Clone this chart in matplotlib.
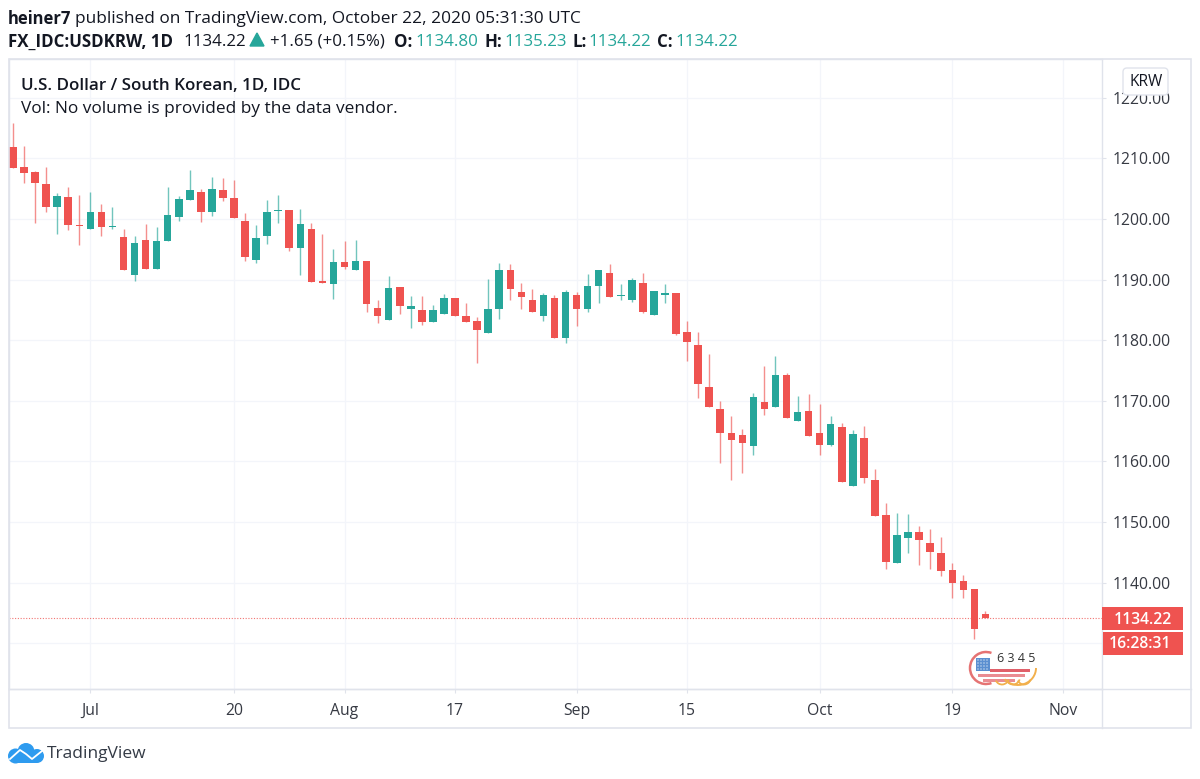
import numpy as np
import matplotlib
matplotlib.use("Agg")
import matplotlib.pyplot as plt
from matplotlib.patches import Rectangle, FancyBboxPatch, Circle, Arc, Polygon

plt.rcParams['font.family'] = ['Open Sans', 'DejaVu Sans']

# USD/KRW daily candles
opens = [1211.9,1208.5,1207.7,1205.8,1201.9,1203.6,1199.0,1198.3,1201.2,1198.6,
         1197.0,1190.8,1196.5,1191.8,1196.4,1200.3,1203.2,1204.4,1201.2,1204.7,
         1203.4,1199.6,1193.2,1197.1,1201.3,1201.5,1195.2,1198.3,1189.8,1189.2,
         1192.9,1191.5,1193.1,1185.3,1183.4,1188.7,1185.1,1185.0,1183.0,1184.3,
         1186.9,1184.0,1183.1,1181.1,1185.1,1191.6,1187.9,1186.6,1184.0,1186.9,
         1180.4,1187.4,1185.2,1189.0,1191.0,1187.2,1186.6,1189.4,1184.1,1187.4,
         1187.8,1181.4,1179.2,1172.3,1168.7,1164.7,1164.3,1162.6,1169.8,1169.0,
         1174.2,1166.6,1168.3,1164.6,1162.7,1165.6,1156.0,1163.9,1156.9,1151.2,
         1143.3,1147.3,1148.3,1146.5,1144.8,1142.0,1140.2,1138.9,1134.80]
closes = [1208.4,1207.6,1206.0,1201.9,1203.8,1199.0,1198.8,1201.2,1198.7,1198.9,
          1191.5,1196.1,1191.8,1196.4,1200.6,1203.3,1204.7,1201.2,1204.9,1203.4,
          1200.1,1193.7,1196.8,1201.1,1201.5,1195.2,1199.2,1189.6,1189.5,1192.9,
          1192.1,1193.1,1186.0,1183.9,1188.6,1185.7,1185.6,1183.0,1184.9,1186.9,
          1183.9,1183.0,1181.6,1185.1,1191.6,1188.4,1187.1,1184.6,1187.5,1180.4,
          1187.9,1185.1,1189.0,1191.6,1187.1,1187.4,1190.0,1184.6,1188.1,1187.8,
          1181.0,1179.7,1172.8,1169.0,1164.7,1163.6,1163.1,1170.6,1168.7,1174.2,
          1167.1,1168.1,1164.1,1162.7,1166.2,1156.6,1164.5,1157.2,1150.9,1143.4,
          1147.8,1148.3,1147.0,1145.0,1141.9,1139.9,1138.7,1132.4,1134.22]
highs = [1215.9,1212.1,1207.9,1208.5,1204.2,1205.3,1204.0,1204.4,1202.5,1202.0,
         1198.3,1197.2,1199.1,1198.6,1205.3,1203.8,1208.1,1204.9,1207.0,1206.7,
         1206.4,1200.9,1199.0,1203.1,1204.0,1201.5,1201.6,1199.4,1197.5,1195.1,
         1196.4,1196.5,1193.1,1186.6,1190.6,1188.8,1187.3,1187.3,1185.8,1187.6,
         1186.9,1186.2,1183.8,1190.1,1192.8,1192.5,1189.4,1188.4,1187.8,1187.4,
         1188.2,1187.9,1190.9,1191.6,1192.6,1189.2,1190.2,1191.0,1188.1,1189.3,
         1187.8,1183.2,1181.4,1177.7,1170.0,1167.4,1165.4,1171.3,1175.7,1177.4,
         1174.6,1170.8,1171.1,1169.4,1167.5,1166.4,1165.1,1165.8,1158.8,1153.2,
         1151.4,1151.3,1149.4,1148.9,1147.5,1143.3,1141.3,1138.9,1135.23]
lows = [1208.4,1205.9,1199.3,1201.2,1197.5,1198.1,1195.7,1198.3,1197.1,1198.3,
        1191.5,1189.8,1191.8,1191.8,1196.4,1199.7,1203.2,1199.5,1200.5,1202.9,
        1200.1,1193.1,1192.8,1195.8,1199.4,1194.7,1190.7,1189.6,1189.5,1186.8,
        1191.7,1191.5,1184.7,1182.9,1183.4,1184.3,1182.0,1182.5,1183.0,1184.3,
        1183.9,1183.0,1176.3,1181.1,1183.5,1186.6,1185.1,1184.6,1183.2,1180.4,
        1179.6,1182.4,1184.7,1186.1,1187.1,1186.7,1186.3,1184.4,1184.1,1186.1,
        1180.8,1176.6,1170.4,1169.0,1159.8,1157.0,1158.0,1161.0,1167.6,1169.0,
        1167.1,1166.6,1164.1,1161.0,1162.5,1156.6,1156.0,1156.5,1150.9,1142.3,
        1143.3,1144.8,1142.9,1142.2,1141.1,1137.4,1137.5,1130.7,1134.22]

price_ticks = [1130,1140,1150,1160,1170,1180,1190,1200,1210,1220]
price_labels = ["","1140.00","1150.00","1160.00","1170.00","1180.00","1190.00","1200.00","1210.00","1220.00"]
date_ticks = [7,20,30,40,51,61,73,85,95]
date_labels = ["Jul","20","Aug","17","Sep","15","Oct","19","Nov"]
last_price = 1134.22

up_col = '#26a69a'
down_col = '#ef5350'
text_col = '#131722'
line_col = '#e0e3eb'
grid_col = '#f3f5fa'
W, H = 1200, 779

fig = plt.figure(figsize=(W/100, H/100), dpi=100, facecolor='white')
ax = fig.add_axes([9/W, 1-689/H, (1102-9)/W, (689-59)/H])

x = np.arange(len(opens))
opens = np.array(opens)
closes = np.array(closes)
highs = np.array(highs)
lows = np.array(lows)
cols = [up_col if c > o else down_col for o, c in zip(opens, closes)]

ax.vlines(x, lows, highs, colors=cols, linewidth=1.0, alpha=0.65, zorder=3)
ax.bar(x, np.maximum(np.abs(closes-opens), 0.25), bottom=np.minimum(opens, closes), width=0.68, color=cols, linewidth=0, zorder=4)
ax.axhline(last_price, color=down_col, linewidth=0.8, linestyle=(0, (1, 1.5)), alpha=0.8, zorder=2)

ax.set_xlim(-0.362, 98.55)
ax.set_ylim(1122.43, 1226.39)
ax.yaxis.tick_right()
ax.set_xticks(date_ticks)
ax.set_xticklabels(date_labels, fontsize=11.3, color=text_col, alpha=0.85)
ax.set_yticks(price_ticks)
ax.set_yticklabels(price_labels, fontsize=11.3, color=text_col, alpha=0.85)
ax.tick_params(axis='x', length=3, width=0.8, color=line_col, pad=7)
ax.tick_params(axis='y', length=3, width=0.8, color=line_col, pad=5)
ax.grid(True, color=grid_col, linewidth=0.9, zorder=0)
ax.set_axisbelow(True)
for s in ax.spines.values():
    s.set_color(line_col)
    s.set_linewidth(1.0)

# overlay in pixel coordinates for the header, frame and badges
over = fig.add_axes([0, 0, 1, 1], facecolor='none')
over.set_xlim(0, W)
over.set_ylim(H, 0)
over.axis('off')

over.add_patch(Rectangle((8.5, 59), 1182, 669, fill=False, edgecolor=line_col, linewidth=1.2))
over.plot([1102, 1102], [689, 728], color=line_col, linewidth=1.0)
over.plot([9, 1191], [689, 689], color=line_col, linewidth=1.0)

def put(px, py, s, size=12.2, weight='normal', color=text_col, ha='left', zorder=10):
    over.text(px, py+1.5, s, fontsize=size, fontweight=weight, color=color, ha=ha, va='center', zorder=zorder)

put(8, 17, "heiner7", size=11.9, weight='bold')
put(75, 17, "published on TradingView.com, October 22, 2020 05:31:30 UTC", size=12.45)
put(8, 40, "FX_IDC:USDKRW, 1D", weight='bold')
put(183, 40, "1134.22")
over.add_patch(Polygon([[250, 46], [264, 46], [257, 33]], color=up_col))
put(270, 40, "+1.65 (+0.15%)")
header_vals = [(394, "O:", 415, "1134.80"), (484, "H:", 504, "1135.23"), (573, "L:", 588, "1134.22"), (657, "C:", 675, "1134.22")]
for lx, lab, vx, val in header_vals:
    put(lx, 40, lab, weight='bold')
    put(vx, 40, val, color=up_col)

put(21, 84, "U.S. Dollar / South Korean, 1D, IDC", size=12.25, weight='semibold')
put(21, 107, "Vol: No volume is provided by the data vendor.", size=12.45)

# currency badge
over.add_patch(FancyBboxPatch((1123, 68), 45, 27, boxstyle="round,pad=0,rounding_size=4", facecolor='white', edgecolor=line_col, linewidth=1, zorder=8))
put(1146, 80, "KRW", size=11.2, ha='center', zorder=9)

# price and countdown labels
over.add_patch(Rectangle((1102, 607), 81, 23, color=down_col, linewidth=0, zorder=8))
over.add_patch(Rectangle((1103, 632), 80, 23, color=down_col, linewidth=0, zorder=8))
put(1142.5, 618, "1134.22", size=11.3, weight='semibold', color='white', ha='center', zorder=9)
put(1140, 643, "16:28:31", size=11.3, weight='semibold', color='white', ha='center', zorder=9)

# small flag watermark
over.add_patch(Arc((986, 668), 32, 32, theta1=70, theta2=290, edgecolor='#e57373', linewidth=1.8, zorder=6))
over.add_patch(Rectangle((976, 658), 14, 13, color='#5b8fd0', linewidth=0, zorder=6))
for dx in [978, 981, 984, 987]:
    for dy in [660, 663, 666, 669]:
        over.add_patch(Circle((dx, dy), 0.6, color='white', linewidth=0, zorder=7))
over.add_patch(Rectangle((990, 669), 40, 2.5, color='#e0606a', linewidth=0, zorder=6))
over.add_patch(Rectangle((978, 674), 47, 2.5, color='#ea8c92', linewidth=0, zorder=6))
over.add_patch(Rectangle((983, 679), 32, 2.5, color='#ea8c92', linewidth=0, zorder=6))
for ax0 in [1002, 1013, 1024]:
    over.add_patch(Arc((ax0, 677), 14, 15, theta1=20, theta2=150, edgecolor='#f2b04c', linewidth=1.3, zorder=7))
over.add_patch(Arc((1018, 668), 36, 34, theta1=0, theta2=140, edgecolor='#f2b04c', linewidth=1.4, zorder=7))
put(1016, 656.5, "6 3 4 5", size=9, ha='center', color='#333333', zorder=7)

# TradingView cloud logo
for cx, cy, r in [(15.5, 756, 7.5), (26, 751.5, 8.5), (37, 756, 7)]:
    over.add_patch(Circle((cx, cy), r, color='#2e9bef', linewidth=0, zorder=6))
over.add_patch(Rectangle((15, 755), 22, 8, color='#2e9bef', linewidth=0, zorder=6))
over.plot([10, 20, 26, 32, 42], [759, 750, 754, 759, 751], color='white', linewidth=1.3, zorder=7)
put(47, 753, "TradingView", size=12.5, color='#333a45')

fig.savefig("out.png", dpi=100)
